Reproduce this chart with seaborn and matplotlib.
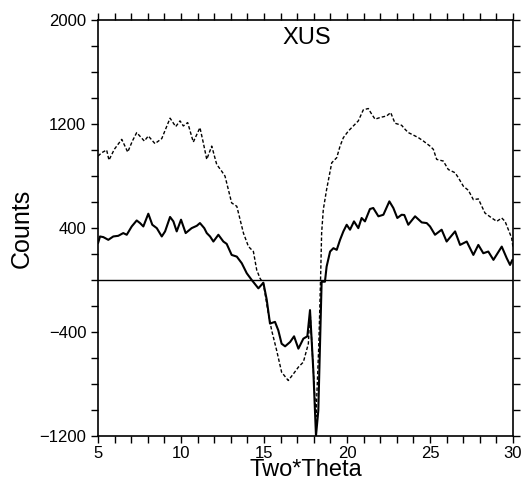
import matplotlib
matplotlib.use("Agg")
import numpy as np
import pandas as pd
import matplotlib.pyplot as plt
import seaborn as sns
from matplotlib.ticker import MultipleLocator, FixedLocator

# Dashed curve
dashed_x = [5.00, 5.22, 5.52, 5.66, 5.98, 6.43, 6.79, 7.07, 7.33, 7.79, 8.03, 8.43, 8.84,
            9.34, 9.68, 9.94, 10.14, 10.40, 10.74, 11.14, 11.34, 11.55, 11.85, 12.15, 12.45,
            12.65, 13.05, 13.36, 13.76, 14.06, 14.36, 14.56, 14.76, 14.96, 15.26, 15.46,
            15.76, 16.06, 16.46, 16.77, 17.07, 17.37, 17.67, 17.77, 17.95, 18.13, 18.30,
            18.41, 18.47, 18.57, 18.77, 19.08, 19.38, 19.58, 19.78, 20.08, 20.38, 20.68,
            20.98, 21.28, 21.49, 21.69, 21.99, 22.39, 22.63, 22.89, 23.29, 23.49, 23.69,
            23.90, 24.30, 24.60, 25.00, 25.20, 25.40, 25.80, 26.10, 26.51, 26.71, 27.01,
            27.31, 27.61, 27.91, 28.31, 28.72, 29.02, 29.32, 29.52, 29.72, 29.92, 30.00]
dashed_y = [953, 979, 1000, 922, 1005, 1082, 984, 1069, 1134, 1069, 1108, 1049, 1088,
            1245, 1180, 1224, 1185, 1211, 1061, 1172, 1057, 928, 1030, 889, 837,
            799, 593, 567, 361, 258, 219, 77, 13, -26, -258, -387,
            -541, -709, -773, -722, -670, -631, -490, -232, -650, -1050, -500,
            26, 361, 541, 696, 902, 941, 1030, 1095, 1146, 1185, 1224,
            1309, 1319, 1275, 1237, 1250, 1262, 1288, 1206, 1190, 1160, 1134,
            1121, 1095, 1069, 1030, 1005, 928, 915, 850, 825, 786, 721,
            690, 618, 624, 515, 477, 451, 477, 451, 387, 322, 250]

# Solid curve
solid_x = [5.00, 5.12, 5.32, 5.62, 5.92, 6.22, 6.52, 6.73, 7.03, 7.33, 7.53, 7.73, 8.03,
           8.27, 8.54, 8.84, 9.04, 9.34, 9.54, 9.74, 10.00, 10.28, 10.64, 10.95, 11.14,
           11.40, 11.55, 11.75, 11.95, 12.25, 12.55, 12.75, 13.05, 13.36, 13.66, 13.96,
           14.26, 14.66, 14.96, 15.16, 15.36, 15.66, 15.86, 16.06, 16.27, 16.57, 16.81,
           17.07, 17.37, 17.61, 17.77, 17.97, 18.13, 18.27, 18.47, 18.67, 18.77, 18.98,
           19.18, 19.38, 19.58, 19.78, 19.98, 20.18, 20.42, 20.68, 20.88, 21.08, 21.38,
           21.58, 21.89, 22.19, 22.55, 22.79, 23.03, 23.29, 23.45, 23.69, 24.10, 24.50,
           24.80, 25.00, 25.30, 25.70, 26.00, 26.51, 26.81, 27.21, 27.61, 27.91, 28.21,
           28.51, 28.82, 29.32, 29.62, 29.82, 29.96]
solid_y = [283, 335, 330, 309, 335, 340, 361, 348, 412, 458, 438, 412, 510,
           425, 399, 335, 374, 485, 451, 374, 464, 361, 399, 417, 438,
           399, 361, 335, 296, 348, 296, 278, 193, 180, 129, 52,
           0, -64, -21, -149, -335, -322, -387, -490, -510, -477, -433,
           -528, -451, -433, -232, -696, -1198, -1005, -13, -13, 103, 219,
           245, 232, 309, 374, 425, 387, 451, 399, 477, 451, 546,
           554, 490, 502, 605, 554, 477, 502, 500, 425, 490, 443,
           438, 412, 348, 387, 296, 374, 270, 296, 193, 270, 206,
           219, 155, 257, 168, 116, 155]

x_major = [5, 10, 15, 20, 25, 30]
y_major = [-1200, -400, 400, 1200, 2000]

sns.set_style("ticks")
plt.rcParams['font.family'] = ['Liberation Sans', 'DejaVu Sans']
plt.rcParams.update({"text.color": "black", "axes.labelcolor": "black",
                     "xtick.color": "black", "ytick.color": "black"})

fig = plt.figure(figsize=(5.25, 4.82), dpi=100)
ax = fig.add_axes([0.1867, 0.0954, 0.7905, 0.8631])

df_d = pd.DataFrame({"x": dashed_x, "y": dashed_y})
df_s = pd.DataFrame({"x": solid_x, "y": solid_y})

ax.axhline(0, color="black", lw=1.0, zorder=1)
sns.lineplot(data=df_d, x="x", y="y", ax=ax, color="black", lw=1.0,
             linestyle=(0, (2.5, 1.5)), sort=False, estimator=None)
sns.lineplot(data=df_s, x="x", y="y", ax=ax, color="black", lw=1.5,
             sort=False, estimator=None)

ax.set_xlim(5, 30)
ax.set_ylim(-1200, 2000)
ax.xaxis.set_major_locator(FixedLocator(x_major))
ax.xaxis.set_minor_locator(MultipleLocator(1))
ax.yaxis.set_major_locator(FixedLocator(y_major))
ax.yaxis.set_minor_locator(MultipleLocator(200))
ax.tick_params(which="both", direction="out", length=5, width=1,
               top=True, right=True, labelsize=12, colors="black")
ax.tick_params(axis="x", pad=2)

for s in ax.spines.values():
    s.set_visible(True)
    s.set_linewidth(1.2)
    s.set_color("black")

ax.set_xlabel("Two*Theta", fontsize=17, labelpad=-1)
ax.set_ylabel("Counts", fontsize=18, labelpad=4)
ax.text(17.6, 1860, "XUS", fontsize=17, ha="center", va="center")

fig.savefig("out.png", dpi=100)
